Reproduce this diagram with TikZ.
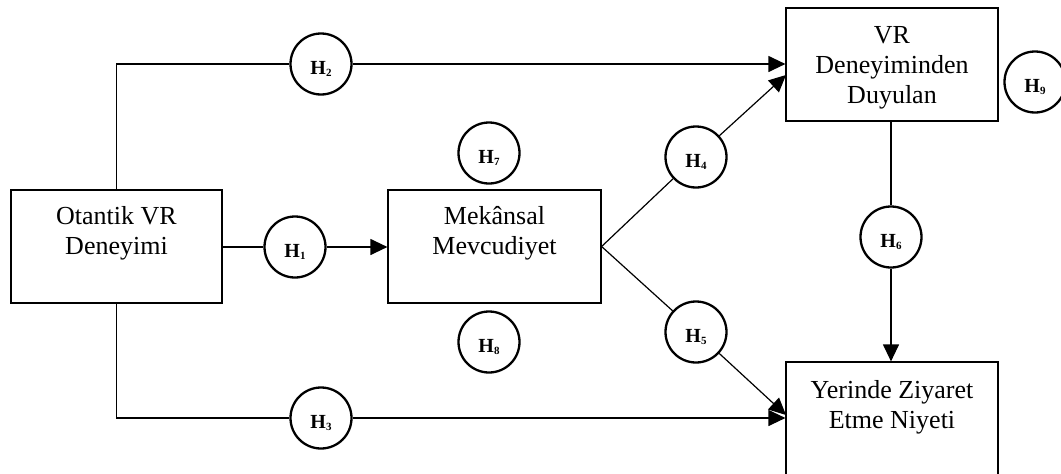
\documentclass[tikz,border=0pt]{standalone}
\usepackage{fontspec}
\setmainfont{Liberation Serif}
\usetikzlibrary{arrows.meta}
\tikzset{
  boxnode/.style={draw, line width=1.2pt, inner xsep=0pt, inner ysep=0pt, anchor=base,
    font=\fontsize{26}{30}\selectfont},
  hyp/.style={circle, draw, line width=2.3pt, minimum size=61pt, inner sep=0pt,
    font=\bfseries\fontsize{20}{22}\selectfont, text height=23pt, text depth=2pt},
  conn/.style={line width=1.2pt},
  arr/.style={conn, -{Triangle[length=17pt,width=16pt]}},
}
\newcommand{\hyplabel}[1]{H{\fontsize{11}{11}\selectfont\raisebox{-2pt}{#1}}}
\newcommand{\boxtext}[1]{\begin{tabular}[t]{@{}c@{}}#1\end{tabular}}
\begin{document}
\begin{tikzpicture}[x=1pt,y=-1pt]
\useasboundingbox (0,0) rectangle (1061,474);
\clip (0,0) rectangle (1061,474);
% boxes
\node[boxnode, minimum width=211pt, text height=34pt, text depth=79pt] (o) at (116.5,224) {\boxtext{Otantik VR\\Deneyimi}};
\node[boxnode, minimum width=213pt, text height=34pt, text depth=79pt] (m) at (494.5,224) {\boxtext{Mekânsal\\Mevcudiyet}};
\node[boxnode, minimum width=212pt, text height=35pt, text depth=78pt] (v) at (892,43) {\boxtext{VR\\Deneyiminden\\Duyulan}};
\node[boxnode, minimum width=212pt, text height=36pt, text depth=90pt] (y) at (892,398) {\boxtext{Yerinde Ziyaret\\Etme Niyeti}};
% hypothesis circles
\node[hyp] (h1) at (295,247) {\hyplabel{1}};
\node[hyp] (h2) at (321,64) {\hyplabel{2}};
\node[hyp] (h3) at (321,418) {\hyplabel{3}};
\node[hyp] (h4) at (696,157) {\hyplabel{4}};
\node[hyp] (h5) at (696,332) {\hyplabel{5}};
\node[hyp] (h6) at (891,237) {\hyplabel{6}};
\node[hyp] (h7) at (489,153) {\hyplabel{7}};
\node[hyp] (h8) at (489,342) {\hyplabel{8}};
\node[hyp] (h9) at (1035,82) {\hyplabel{9}};
% arrow end points
\coordinate (t4) at (786,75);
\coordinate (t5) at (786,415);
% connectors
\draw[conn] (o.east |- h1) -- (h1.west);
\draw[arr] (h1.east) -- (m.west |- h1);
\draw[conn] (o.north) |- (h2.west);
\draw[arr] (h2.east) -- (v.west |- h2);
\draw[conn] (o.south) |- (h3.west);
\draw[arr] (h3.east) -- (y.west |- h3);
\draw[conn] (m.east) -- (h4);
\draw[arr] (h4) -- (t4);
\draw[conn] (m.east) -- (h5);
\draw[arr] (h5) -- (t5);
\draw[conn] (v.south -| h6) -- (h6.north);
\draw[arr] (h6.south) -- (y.north -| h6);
\end{tikzpicture}
\end{document}
